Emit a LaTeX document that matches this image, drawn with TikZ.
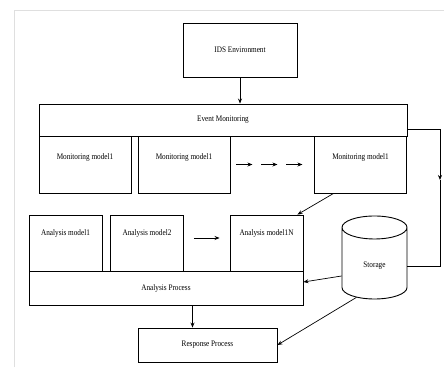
\documentclass[tikz,border=0pt]{standalone}
\usepackage{fontspec}
\setmainfont{Liberation Serif}[FakeStretch=0.85]
\usetikzlibrary{shapes.geometric,arrows.meta}

\begin{document}
\begin{tikzpicture}[x=1pt, y=-1pt, >={Stealth[length=5pt,width=4pt]},
        font=\fontsize{8.5}{9}\selectfont,
        box/.style = {draw, line width=0.9pt, inner sep=0pt},
        model/.style = {box, minimum width=92pt, minimum height=57pt},
        ana/.style = {box, minimum width=73pt, minimum height=56pt},
        link/.style = {->, line width=0.7pt}]
        \useasboundingbox (0,0) rectangle (444,367);
        \draw[gray!25, line width=1pt] (14,367) -- (14,10) -- (444,10);

        \node[box, minimum width=114pt, minimum height=54pt] (env) at (240,50) {IDS Environment};
        \node[box, minimum width=368pt, minimum height=32pt] (event) at (223,120) {Event Monitoring};

        \node[model, label={[below=15pt]north:Monitoring model1}] (m1) at (85,164.5) {};
        \node[model, label={[below=15pt]north:Monitoring model1}] (m2) at (184,164.5) {};
        \node[model, label={[below=15pt]north:Monitoring model1}] (m3) at (360.5,164.5) {};

        \node[ana, label={[below=12pt]north:Analysis model1}] (a1) at (65.5,243) {};
        \node[ana, label={[below=12pt]north:Analysis model2}] (a2) at (147,243) {};
        \node[ana, label={[below=12pt]north:Analysis model1N}] (aN) at (266.5,243) {};

        \node[box, minimum width=274pt, minimum height=34pt] (proc) at (166,288) {Analysis Process};
        \node[box, minimum width=139pt, minimum height=34pt] (resp) at (207.5,345) {Response Process};

        \node[draw, cylinder, shape border rotate=90, aspect=0.8, line width=0.9pt,
              minimum width=65pt, minimum height=83pt] (stor) at (374.5,266) {Storage};

        \coordinate (fbk) at (440,180);

        \draw[link] (env) -- (env.south |- event.north);
        \draw[link] ([yshift=-9pt]event.east) -| (fbk);
        \draw[line width=0.7pt] (fbk) |- (stor.east);
        \foreach \i in {0,1,2}
            \draw[link] ([xshift=6pt+25*\i pt]m2.east) -- ++(16,0);
        \draw[link] ([xshift=-27pt]m3.south) -- ([xshift=-6pt]aN.north east);
        \draw[link] ([xshift=10pt,yshift=5pt]a2.east) -- ([xshift=-10pt,yshift=5pt]aN.west);
        \draw[link] ([yshift=-10pt]stor.west) -- ([yshift=6pt]proc.east);
        \draw[link] ([xshift=-15pt]resp.north |- proc.south) -- ([xshift=-15pt]resp.north);
        \draw[link] (stor.240) -- (resp.east);
\end{tikzpicture}
\end{document}
